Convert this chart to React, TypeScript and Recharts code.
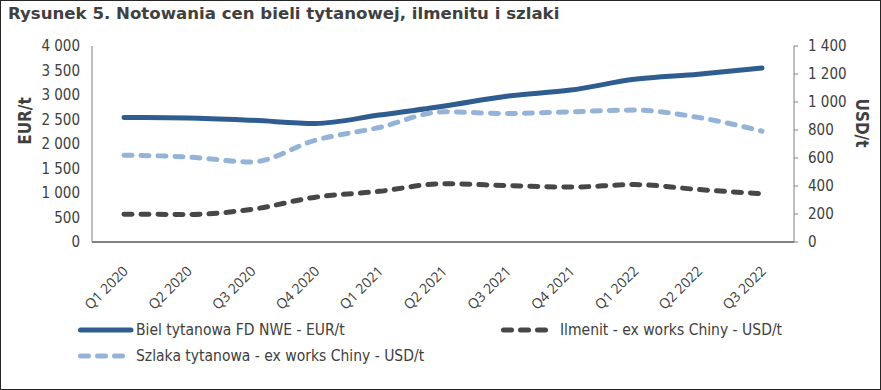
import { LineChart, Line, XAxis, YAxis } from 'recharts';

const quarters = ['Q1 2020', 'Q2 2020', 'Q3 2020', 'Q4 2020', 'Q1 2021', 'Q2 2021', 'Q3 2021', 'Q4 2021', 'Q1 2022', 'Q2 2022', 'Q3 2022'];
const bielEur = [2540, 2530, 2485, 2420, 2590, 2770, 2975, 3100, 3320, 3425, 3550];
const ilmenitUsd = [199, 197, 233, 320, 362, 416, 403, 392, 410, 375, 345];
const szlakaUsd = [620, 607, 572, 727, 818, 930, 918, 930, 942, 890, 792];
const eurTicks = [0, 500, 1000, 1500, 2000, 2500, 3000, 3500, 4000];
const usdTicks = [0, 200, 400, 600, 800, 1000, 1200, 1400];

const TEXT = '#404040';
const FONT = '"DejaVu Sans Condensed", "DejaVu Sans", sans-serif';

const series = [
  { key: 'biel', name: 'Biel tytanowa FD NWE - EUR/t', color: '#2F5D8F', axis: 'eur', dash: undefined as string | undefined },
  { key: 'ilmenit', name: 'Ilmenit - ex works Chiny - USD/t', color: '#474747', axis: 'usd', dash: '8 9' },
  { key: 'szlaka', name: 'Szlaka tytanowa - ex works Chiny - USD/t', color: '#95B3D7', axis: 'usd', dash: '8 9' },
];

const data = quarters.map((q, i) => ({ q, biel: bielEur[i], ilmenit: ilmenitUsd[i], szlaka: szlakaUsd[i] }));

// "4 000" style thousands separator
const fmtNum = (v: number) => (v >= 1000 ? `${Math.floor(v / 1000)} ${String(v % 1000).padStart(3, '0')}` : String(v));

function QuarterTick({ x, y, payload }: any) {
  const px = x + 5;
  const py = y + 22;
  return (
    <text x={px} y={py} transform={`rotate(-45 ${px} ${py})`} textAnchor="end" fill={TEXT}
      style={{ fontFamily: '"Open Sans", sans-serif', fontSize: 14 }}>
      {payload.value}
    </text>
  );
}

function LegendItem({ s, left, top, gap }: { s: (typeof series)[number]; left: number; top: number; gap: number }) {
  return (
    <div style={{ position: 'absolute', left, top, display: 'flex', alignItems: 'center', height: 20 }}>
      <svg width={56} height={10} style={{ display: 'block' }}>
        <line x1={2.5} y1={5} x2={53} y2={5} stroke={s.color} strokeWidth={5}
          strokeDasharray={s.dash} strokeLinecap="round" />
      </svg>
      <span style={{ fontFamily: FONT, fontSize: 15.5, color: TEXT, whiteSpace: 'nowrap', marginLeft: gap }}>{s.name}</span>
    </div>
  );
}

export default function App() {
  return (
    <div style={{ position: 'relative', width: 881, height: 390, boxSizing: 'border-box', border: '1px solid #262626', background: '#fff', overflow: 'hidden' }}>
      <style>{'body{margin:0}'}</style>
      <div style={{ position: 'absolute', left: 7, top: 3, fontFamily: '"DejaVu Sans", sans-serif', fontWeight: 'bold', fontSize: 16.6, color: TEXT, whiteSpace: 'nowrap' }}>
        Rysunek 5. Notowania cen bieli tytanowej, ilmenitu i szlaki
      </div>
      <div style={{ position: 'absolute', left: -1, top: -1 }}>
        <LineChart width={881} height={390} data={data} margin={{ top: 46, right: 30, bottom: 88, left: 40 }}>
          <XAxis dataKey="q" tick={<QuarterTick />} tickLine={false} height={60} interval={0}
            padding={{ left: 32, right: 32 }} axisLine={{ stroke: '#595959', strokeWidth: 1.5 }} />
          <YAxis yAxisId="eur" orientation="left" width={52} domain={[0, 4000]} ticks={eurTicks}
            tickFormatter={fmtNum} tickLine={false} tickSize={0} tickMargin={12}
            axisLine={{ stroke: '#808080' }}
            tick={{ fill: TEXT, fontSize: 15, fontFamily: FONT }}
            label={{ value: 'EUR/t', angle: -90, position: 'insideLeft', offset: -15, dy: -23, style: { fill: TEXT, fontSize: 17, fontWeight: 'bold', fontFamily: FONT, textAnchor: 'middle' } }} />
          <YAxis yAxisId="usd" orientation="right" width={57} domain={[0, 1400]} ticks={usdTicks}
            tickFormatter={fmtNum} tickSize={4} tickMargin={10}
            axisLine={{ stroke: '#808080' }} tickLine={{ stroke: '#808080' }}
            tick={{ fill: TEXT, fontSize: 15, fontFamily: FONT }}
            label={{ value: 'USD/t', angle: 90, position: 'insideRight', offset: -11, dy: -21, style: { fill: TEXT, fontSize: 17, fontWeight: 'bold', fontFamily: FONT, textAnchor: 'middle' } }} />
          {series.map((s) => (
            <Line key={s.key} yAxisId={s.axis} dataKey={s.key} name={s.name} type="monotone"
              stroke={s.color} strokeWidth={5} strokeDasharray={s.dash} strokeLinecap="round"
              dot={false} activeDot={false} isAnimationActive={false} />
          ))}
        </LineChart>
      </div>
      <LegendItem s={series[0]} left={77} top={319} gap={2} />
      <LegendItem s={series[1]} left={500} top={319} gap={3} />
      <LegendItem s={series[2]} left={77} top={345} gap={2} />
    </div>
  );
}
